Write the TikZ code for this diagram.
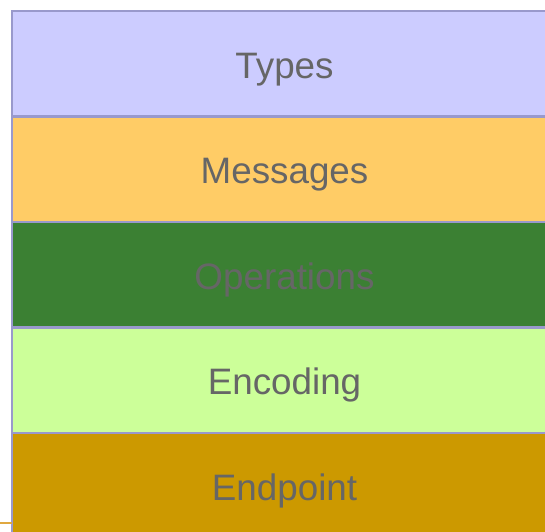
\documentclass[tikz,border=0pt]{standalone}
\usepackage{fontspec}
\setmainfont{Liberation Sans}
\usetikzlibrary{positioning}
\definecolor{layerline}{HTML}{9999CC}
\definecolor{layertext}{HTML}{666666}
\definecolor{typesfill}{HTML}{CCCCFF}
\definecolor{messagesfill}{HTML}{FFCC66}
\definecolor{operationsfill}{HTML}{3B8033}
\definecolor{encodingfill}{HTML}{CCFF99}
\definecolor{endpointfill}{HTML}{CC9900}
\definecolor{stubline}{HTML}{E0A840}
\tikzset{
  layer/.style={draw=layerline, line width=2.2pt, rectangle, inner sep=0pt, outer sep=0pt,
    minimum width=545pt, minimum height=105.5pt, text=layertext,
    text height=32pt, text depth=3pt,
    font=\fontsize{36.8}{40}\selectfont}
}
\begin{document}
\begin{tikzpicture}[x=1pt, y=1pt]
      \useasboundingbox (0,0) rectangle (545,-531);
      \begin{scope}
        \clip (0,0) rectangle (545,-531);
        \node[layer, fill=typesfill, anchor=north west] (types) at (12,-11) {Types};
        \node[layer, fill=messagesfill, below=0pt of types] (messages) {Messages};
        \node[layer, fill=operationsfill, below=0pt of messages] (operations) {Operations};
        \node[layer, fill=encodingfill, below=0pt of operations] (encoding) {Encoding};
        \node[layer, fill=endpointfill, below=0pt of encoding] (endpoint) {Endpoint};
        \coordinate (stub) at (0,-523);
        \draw[stubline, line width=1.2pt] (stub) -- (stub -| endpoint.west);
      \end{scope}
    \end{tikzpicture}
\end{document}
